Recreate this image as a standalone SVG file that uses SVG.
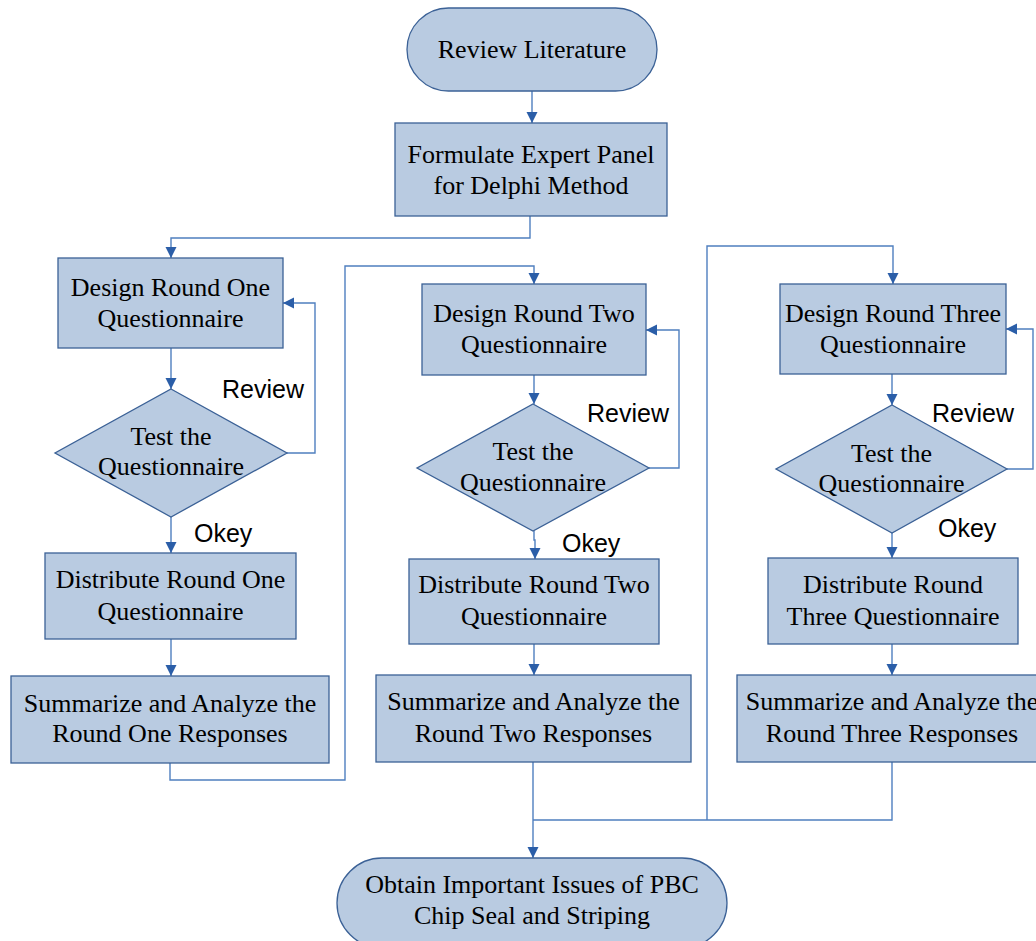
<svg xmlns="http://www.w3.org/2000/svg" width="1036" height="941" viewBox="0 0 1036 941">
<style>
.n{fill:#b9cbe1;stroke:#3b6196;stroke-width:1.3}
.t{font-family:"Liberation Serif","Times New Roman",serif;font-size:26px;fill:#000;text-anchor:middle}
.l{font-family:"Liberation Sans",Arial,sans-serif;font-size:25px;fill:#000}
.c{fill:none;stroke:#4f7fbf;stroke-width:1.4}
.a{marker-end:url(#ah)}
</style>
<defs>
<marker id="ah" markerUnits="userSpaceOnUse" markerWidth="12" markerHeight="12" refX="11" refY="5.5" orient="auto">
<path d="M0,0 L11,5.5 L0,11 z" fill="#2b5ea8"/>
</marker>
</defs>
<rect width="1036" height="941" fill="#fff"/>
<g id="connectors">
<path class="c a" d="M532,91 V123"/>
<path class="c a" d="M530,216 V238 H171 V258"/>
<path class="c a" d="M171,348 V389"/>
<path class="c a" d="M287,453 H315 V303 H283"/>
<path class="c a" d="M171,517 V553"/>
<path class="c a" d="M171,639 V676"/>
<path class="c a" d="M170,763 V780 H345 V266 H534 V284"/>
<path class="c a" d="M534,375 V404"/>
<path class="c a" d="M649,468 H679 V330 H646"/>
<path class="c a" d="M534,531 V540 H535 V559"/>
<path class="c a" d="M534,644 V675"/>
<path class="c a" d="M533,762 V858"/>
<path class="c" d="M533,820 H892 V762"/>
<path class="c a" d="M707,820 V246 H893 V284"/>
<path class="c a" d="M892,374 V405"/>
<path class="c a" d="M1007,469 H1033 V329 H1006"/>
<path class="c a" d="M892,533 V558"/>
<path class="c a" d="M892,644 V675"/>
</g>
<g id="review-literature">
<rect class="n" x="407" y="8" width="250" height="83" rx="41.5" ry="41.5"/>
<text class="t" x="532" y="58">Review Literature</text>
</g>
<g id="formulate">
<rect class="n" x="395" y="123" width="272" height="93"/>
<text class="t" x="531" y="163">Formulate Expert Panel</text>
<text class="t" x="531" y="194">for Delphi Method</text>
</g>
<g id="design1">
<rect class="n" x="58" y="258" width="225" height="90"/>
<text class="t" x="170.5" y="296">Design Round One</text>
<text class="t" x="170.5" y="327">Questionnaire</text>
</g>
<g id="test1">
<polygon class="n" points="171,389 287,453 171,517 55,453"/>
<text class="t" x="171" y="445">Test the</text>
<text class="t" x="171" y="475">Questionnaire</text>
</g>
<g id="distribute1">
<rect class="n" x="45" y="553" width="251" height="86"/>
<text class="t" x="170.5" y="588">Distribute Round One</text>
<text class="t" x="170.5" y="620">Questionnaire</text>
</g>
<g id="summarize1">
<rect class="n" x="11" y="676" width="318" height="87"/>
<text class="t" x="170" y="712">Summarize and Analyze the</text>
<text class="t" x="170" y="742">Round One Responses</text>
</g>
<g id="design2">
<rect class="n" x="422" y="284" width="224" height="91"/>
<text class="t" x="534" y="322">Design Round Two</text>
<text class="t" x="534" y="353">Questionnaire</text>
</g>
<g id="test2">
<polygon class="n" points="533,404 649,468 533,531 417,468"/>
<text class="t" x="533" y="460">Test the</text>
<text class="t" x="533" y="491">Questionnaire</text>
</g>
<g id="distribute2">
<rect class="n" x="409" y="559" width="250" height="85"/>
<text class="t" x="534" y="593">Distribute Round Two</text>
<text class="t" x="534" y="625">Questionnaire</text>
</g>
<g id="summarize2">
<rect class="n" x="376" y="675" width="315" height="87"/>
<text class="t" x="533.5" y="710">Summarize and Analyze the</text>
<text class="t" x="533.5" y="742">Round Two Responses</text>
</g>
<g id="design3">
<rect class="n" x="780" y="284" width="226" height="90"/>
<text class="t" x="893" y="322">Design Round Three</text>
<text class="t" x="893" y="353">Questionnaire</text>
</g>
<g id="test3">
<polygon class="n" points="892,405 1007,469 892,533 776,469"/>
<text class="t" x="891.5" y="462">Test the</text>
<text class="t" x="891.5" y="492">Questionnaire</text>
</g>
<g id="distribute3">
<rect class="n" x="768" y="558" width="250" height="86"/>
<text class="t" x="893" y="593">Distribute Round</text>
<text class="t" x="893" y="625">Three Questionnaire</text>
</g>
<g id="summarize3">
<rect class="n" x="737" y="675" width="310" height="87"/>
<text class="t" x="892" y="710">Summarize and Analyze the</text>
<text class="t" x="892" y="742">Round Three Responses</text>
</g>
<g id="obtain">
<rect class="n" x="337" y="858" width="390" height="90" rx="45" ry="45"/>
<text class="t" x="532" y="893">Obtain Important Issues of PBC</text>
<text class="t" x="532" y="924">Chip Seal and Striping</text>
</g>
<g id="labels">
<text class="l" x="222" y="398">Review</text>
<text class="l" x="194" y="542">Okey</text>
<text class="l" x="587" y="422">Review</text>
<text class="l" x="562" y="552">Okey</text>
<text class="l" x="932" y="422">Review</text>
<text class="l" x="938" y="537">Okey</text>
</g>
</svg>
